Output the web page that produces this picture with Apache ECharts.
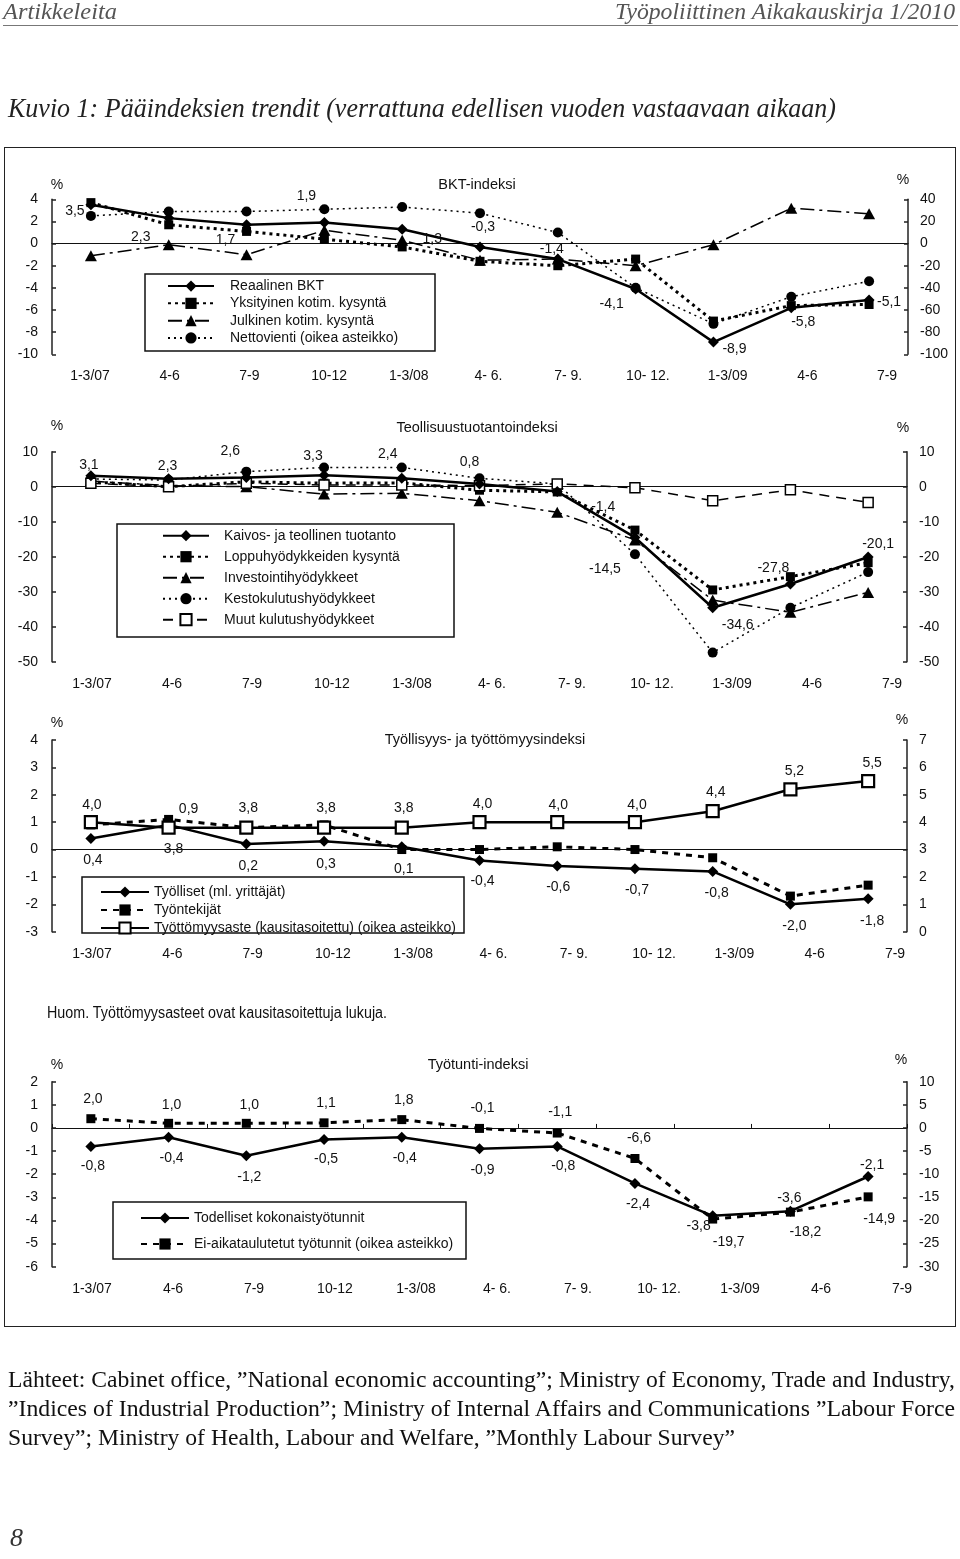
<!DOCTYPE html>
<html><head><meta charset="utf-8">
<script src="https://cdn.jsdelivr.net/npm/echarts@6/dist/echarts.min.js"></script>
<style>
html,body{margin:0;padding:0;background:#fff;}
#page{position:relative;width:960px;height:1559px;overflow:hidden;background:#fff;}
#chart{position:absolute;left:0;top:0;width:960px;height:1559px;}
.t{position:absolute;white-space:nowrap;transform-origin:0 50%;line-height:1.15;}
</style></head><body><div id="page">
<div style="position:absolute;left:3px;top:25px;width:955px;height:1px;background:#777;"></div>
<div style="position:absolute;left:4px;top:147px;width:950px;height:1178px;border:1.5px solid #222;"></div>
<div id="chart"></div>
</div>
<script>
// ---------- data ----------
const cats = ['1-3/07','4-6','7-9','10-12','1-3/08','4- 6.','7- 9.','10- 12.','1-3/09','4-6','7-9'];

// BKT-indeksi
const bktReal = [3.5, 2.3, 1.7, 1.9, 1.3, -0.3, -1.4, -4.1, -8.9, -5.8, -5.1];
const bktPriv = [3.7, 1.7, 1.1, 0.4, -0.3, -1.6, -2.0, -1.4, -7.0, -5.6, -5.5];
const bktPub  = [-1.1, -0.1, -1.0, 1.2, 0.3, -1.5, -1.4, -2.0, -0.1, 3.2, 2.7];
const bktNet  = [25, 29, 29, 31, 33, 27.5, 10, -40, -72.5, -48, -34];

// Teollisuustuotantoindeksi
const teoKaiv = [3.1, 2.3, 2.6, 3.3, 2.4, 0.8, -1.4, -14.5, -34.6, -27.8, -20.1];
const teoLopp = [1.4, 0.0, 1.4, 1.0, 1.1, -1.0, -1.5, -12.4, -29.5, -25.7, -21.7];
const teoInv  = [1.6, 0.3, 0.0, -2.1, -1.9, -4.0, -7.3, -15.2, -32.4, -35.9, -30.2];
const teoKest = [2.2, 1.9, 4.3, 5.5, 5.5, 2.4, 0.8, -19.3, -47.4, -34.6, -24.4];
const teoMuut = [1.0, 0.0, 1.0, 0.5, 0.5, 0.3, 0.8, -0.3, -4.0, -0.9, -4.5];

// Työllisyys- ja työttömyysindeksi
const tyolliset   = [0.4, 0.9, 0.2, 0.3, 0.1, -0.4, -0.6, -0.7, -0.8, -2.0, -1.8];
const tyontekijat = [0.9, 1.1, 0.8, 0.9, 0.0, 0.0, 0.1, 0.0, -0.3, -1.7, -1.3];
const tyottomyys  = [4.0, 3.8, 3.8, 3.8, 3.8, 4.0, 4.0, 4.0, 4.4, 5.2, 5.5];

// Työtunti-indeksi
const todelliset = [-0.8, -0.4, -1.2, -0.5, -0.4, -0.9, -0.8, -2.4, -3.8, -3.6, -2.1];
const eiAikat    = [2.0, 1.0, 1.0, 1.1, 1.8, -0.1, -1.1, -6.6, -19.7, -18.2, -14.9];

// ---------- label placement (style) ----------
const offBktReal = [[-16,6],[-28,19],[-21,15],[-18,-26],[30,10],[3,-20],[-6,-10],[-24,15],[21,7],[12,14],[20,2]];
const offTeoKaiv = [[-2,-11],[-1,-13],[-16,-26],[-11,-19],[-14,-24],[-10,-22],[46,16],[-30,32],[25,17],[-17,-16],[10,-13]];
const offTyoll   = [[2,22],[20,-16],[2,22],[2,23],[2,22],[3,21],[1,21],[2,21],[4,22],[4,22],[4,22]];
const offTyott   = [[1,-17],[5,22],[2,-19],[2,-19],[2,-19],[3,-18],[1,-17],[2,-17],[3,-19],[4,-18],[4,-18]];
const offTod     = [[2,20],[3,21],[3,21],[2,20],[3,21],[3,21],[6,20],[3,21],[-14,10],[-1,-13],[4,-11]];
const offEi      = [[2,-20],[3,-18],[3,-18],[2,-20],[2,-19],[3,-20],[3,-21],[4,-20],[16,23],[15,20],[11,22]];

// ---------- fonts ----------
function hasFont(n){const c=document.createElement('canvas').getContext('2d');const s='Reaalinen BKT 1-3/07 mmmwwwiii';c.font='40px monospace';const a=c.measureText(s).width;c.font='40px "'+n+'", monospace';return Math.abs(c.measureText(s).width-a)>1;}
const NARROW = hasFont('Liberation Sans Narrow');
const SANS = NARROW ? 'Liberation Sans Narrow' : 'Liberation Sans';
const FS = NARROW ? 16 : 14;
const FSD = NARROW ? 15.5 : 14;
const FST = NARROW ? 17 : 14.5;
const INK = '#111';

// ---------- page text (HTML) ----------
const page = document.getElementById('page');
function addText(txt, o){
  const s=document.createElement('div'); s.className='t'; s.textContent=txt;
  s.style.font=o.font; s.style.color=o.color||INK; page.appendChild(s);
  const r=s.getBoundingClientRect();
  const sx = o.width ? o.width/r.width : 1;
  s.style.left=(o.x)+'px'; s.style.top=(o.cy - r.height/2)+'px';
  s.style.transform='scaleX('+sx+')';
}
addText('Artikkeleita',{x:3,cy:12,width:114,font:'italic 23px "Liberation Serif"',color:'#555'});
addText('Työpoliittinen Aikakauskirja 1/2010',{x:615,cy:12,width:340,font:'italic 23px "Liberation Serif"',color:'#555'});
addText('Kuvio 1: Pääindeksien trendit (verrattuna edellisen vuoden vastaavaan aikaan)',{x:8,cy:108,width:828,font:'italic 27px "Liberation Serif"',color:'#222'});
addText('Huom. Työttömyysasteet ovat kausitasoitettuja lukuja.',{x:47,cy:1013,width:340,font:'16px "'+SANS+'"'});
addText('Lähteet: Cabinet office, ”National economic accounting”; Ministry of Economy, Trade and Industry,',{x:8,cy:1380,width:947,font:'23px "Liberation Serif"'});
addText('”Indices of Industrial Production”; Ministry of Internal Affairs and Communications ”Labour Force',{x:8,cy:1409,width:947,font:'23px "Liberation Serif"'});
addText('Survey”; Ministry of Health, Labour and Welfare, ”Monthly Labour Survey”',{x:8,cy:1438,width:727,font:'23px "Liberation Serif"'});
addText('8',{x:10,cy:1538,font:'italic 26px "Liberation Serif"',color:'#333'});

// ---------- chart ----------
const panels = [
  {grid:{left:52,top:199.3,width:856,height:155}, lab:{left:50.15,width:876.7,y:377},
   yL:{min:-10,max:4,interval:2}, yR:{min:-100,max:40,interval:20}, ticksX:false,
   pctL:[57,185], pctR:[903,180], title:['BKT-indeksi',477,185],
   legend:{left:167,top:277.4,iw:46,lh:17.3,pad:11}, box:[145,274,290,77]},
  {grid:{left:52,top:451.7,width:855,height:210}, lab:{left:52,width:880,y:685},
   yL:{min:-50,max:10,interval:10}, yR:{min:-50,max:10,interval:10}, ticksX:false,
   pctL:[57,426], pctR:[903,428], title:['Teollisuustuotantoindeksi',477,428],
   legend:{left:162,top:525.2,iw:46,lh:21,pad:10}, box:[117,524,337,113]},
  {grid:{left:52,top:740,width:855,height:191.7}, lab:{left:51.85,width:883.3,y:955},
   yL:{min:-3,max:4,interval:1}, yR:{min:0,max:7,interval:1}, ticksX:false,
   pctL:[57,723], pctR:[902,720], title:['Työllisyys- ja työttömyysindeksi',485,740],
   legend:{left:100,top:883,iw:48,lh:18,pad:0}, box:[82,877,382,56]},
  {grid:{left:52,top:1081.7,width:855,height:185}, lab:{left:51.5,width:891,y:1290},
   yL:{min:-6,max:2,interval:1}, yR:{min:-30,max:10,interval:5}, ticksX:true,
   pctL:[57,1065], pctR:[901,1060], title:['Työtunti-indeksi',478,1065],
   legend:{left:140,top:1205,iw:48,lh:26,pad:0}, box:[113,1202,353,57]}
];

const fmt = v => v.toFixed(1).replace('.', ',');
const LS = {
  solid:    {color:'#000', width:2.5, type:'solid'},
  dotThick: {color:'#000', width:3, type:[3,4]},
  dashDot:  {color:'#000', width:1.5, type:[14,5,3,5]},
  dotted:   {color:'#000', width:1.5, type:[2,4]},
  dashed:   {color:'#000', width:1.5, type:[10,7]},
  dashThick:{color:'#000', width:3, type:[6,6]}
};
const SY = {
  diamond: {symbol:'diamond', symbolSize:11, itemStyle:{color:'#000'}},
  rect:    {symbol:'rect', symbolSize:9, itemStyle:{color:'#000'}},
  tri:     {symbol:'triangle', symbolSize:[12,11], itemStyle:{color:'#000'}},
  circle:  {symbol:'circle', symbolSize:10, itemStyle:{color:'#000'}},
  openRect:{symbol:'rect', symbolSize:10, itemStyle:{color:'#fff', borderColor:'#000', borderWidth:1.5}},
  openRectBig:{symbol:'rect', symbolSize:12, itemStyle:{color:'#fff', borderColor:'#000', borderWidth:2.2}}
};

const option = {animation:false, backgroundColor:'transparent', grid:[], xAxis:[], yAxis:[], series:[], legend:[], graphic:[]};
const axisLineStyle = {color:'#222', width:1.5};
panels.forEach((c,p)=>{
  option.grid.push(Object.assign({containLabel:false}, c.grid));
  option.grid.push({left:c.lab.left, width:c.lab.width, top:c.lab.y-20, height:1});
  option.xAxis.push({gridIndex:2*p, type:'category', data:cats, boundaryGap:true,
    axisLine:{show:true,onZero:true,onZeroAxisIndex:3*p,lineStyle:{color:'#111',width:1.2}},
    axisTick:{show:c.ticksX, inside:true, length:4, interval:0, lineStyle:{color:'#111',width:1}},
    axisLabel:{show:false}, splitLine:{show:false}});
  option.xAxis.push({gridIndex:2*p+1, type:'category', data:cats, boundaryGap:true,
    axisLine:{show:false}, axisTick:{show:false},
    axisLabel:{interval:0, margin:11, color:INK, fontSize:FS, fontFamily:SANS}});
  const yBase = {type:'value', splitLine:{show:false},
    axisLine:{show:true,onZero:false,lineStyle:axisLineStyle},
    axisTick:{show:true,inside:true,length:4,lineStyle:axisLineStyle}};
  option.yAxis.push(Object.assign({}, yBase, {gridIndex:2*p, position:'left'}, c.yL,
    {axisLabel:{margin:14, align:'right', color:INK, fontSize:FS, fontFamily:SANS}}));
  option.yAxis.push(Object.assign({}, yBase, {gridIndex:2*p, position:'right'}, c.yR,
    {axisLabel:{margin:12, align:'left', color:INK, fontSize:FS, fontFamily:SANS}}));
  option.yAxis.push({gridIndex:2*p+1, type:'value', show:false});
  // texts
  option.graphic.push({type:'text', x:c.pctL[0], y:c.pctL[1], style:{text:'%', fill:INK, fontSize:FS, fontFamily:SANS, align:'center', verticalAlign:'middle'}});
  option.graphic.push({type:'text', x:c.pctR[0], y:c.pctR[1], style:{text:'%', fill:INK, fontSize:FS, fontFamily:SANS, align:'center', verticalAlign:'middle'}});
  option.graphic.push({type:'text', x:c.title[1], y:c.title[2], style:{text:c.title[0], fill:INK, fontSize:FST, fontFamily:SANS, align:'center', verticalAlign:'middle'}});
  option.graphic.push({type:'rect', shape:{x:c.box[0], y:c.box[1], width:c.box[2], height:c.box[3]}, style:{fill:'transparent', stroke:'#111', lineWidth:1.5}, z:1});
});

function addSeries(p, name, right, vals, ls, sy, offs){
  const s = Object.assign({type:'line', name, xAxisIndex:2*p, yAxisIndex:3*p+(right?1:0),
    lineStyle:ls, emphasis:{disabled:true}, z:offs?4:3}, JSON.parse(JSON.stringify(sy)));
  s.data = vals.slice();
  if(offs){
    s.label = {show:true, position:'inside', align:'center', verticalAlign:'middle', color:INK,
      fontSize:FSD, fontFamily:SANS, textBorderWidth:0, formatter:(d)=>fmt(d.value)};
    s.labelLayout = function(params){
      const o = offs[params.dataIndex] || [0,0];
      return {dx:o[0], dy:o[1], hideOverlap:false};
    };
  }
  option.series.push(s);
}
addSeries(0,'Reaalinen BKT',false,bktReal,LS.solid,SY.diamond,offBktReal);
addSeries(0,'Yksityinen kotim. kysyntä',false,bktPriv,LS.dotThick,SY.rect);
addSeries(0,'Julkinen kotim. kysyntä',false,bktPub,LS.dashDot,SY.tri);
addSeries(0,'Nettovienti (oikea asteikko)',true,bktNet,LS.dotted,SY.circle);

addSeries(1,'Kaivos- ja teollinen tuotanto',false,teoKaiv,LS.solid,SY.diamond,offTeoKaiv);
addSeries(1,'Loppuhyödykkeiden kysyntä',false,teoLopp,LS.dotThick,SY.rect);
addSeries(1,'Investointihyödykkeet',false,teoInv,LS.dashDot,SY.tri);
addSeries(1,'Kestokulutushyödykkeet',false,teoKest,LS.dotted,SY.circle);
addSeries(1,'Muut kulutushyödykkeet',false,teoMuut,LS.dashed,SY.openRect);

addSeries(2,'Työlliset (ml. yrittäjät)',false,tyolliset,LS.solid,SY.diamond,offTyoll);
addSeries(2,'Työntekijät',false,tyontekijat,LS.dashThick,SY.rect);
addSeries(2,'Työttömyysaste (kausitasoitettu) (oikea asteikko)',true,tyottomyys,LS.solid,SY.openRectBig,offTyott);

addSeries(3,'Todelliset kokonaistyötunnit',false,todelliset,LS.solid,SY.diamond,offTod);
addSeries(3,'Ei-aikataulutetut työtunnit (oikea asteikko)',true,eiAikat,LS.dashThick,SY.rect,offEi);

const legendNames = [
  ['Reaalinen BKT','Yksityinen kotim. kysyntä','Julkinen kotim. kysyntä','Nettovienti (oikea asteikko)'],
  ['Kaivos- ja teollinen tuotanto','Loppuhyödykkeiden kysyntä','Investointihyödykkeet','Kestokulutushyödykkeet','Muut kulutushyödykkeet'],
  ['Työlliset (ml. yrittäjät)','Työntekijät','Työttömyysaste (kausitasoitettu) (oikea asteikko)'],
  ['Todelliset kokonaistyötunnit','Ei-aikataulutetut työtunnit (oikea asteikko)']
];
panels.forEach((c,p)=>{
  option.legend.push({data:legendNames[p], orient:'vertical', left:c.legend.left, top:c.legend.top,
    padding:0, itemGap:0, itemWidth:c.legend.iw, itemHeight:14, selectedMode:false,
    textStyle:{color:INK, fontSize:FS, fontFamily:SANS, lineHeight:c.legend.lh, padding:[0,0,0,c.legend.pad]}});
});

const chart = echarts.init(document.getElementById('chart'), null, {renderer:'canvas'});
chart.setOption(option);
</script>
</body></html>
